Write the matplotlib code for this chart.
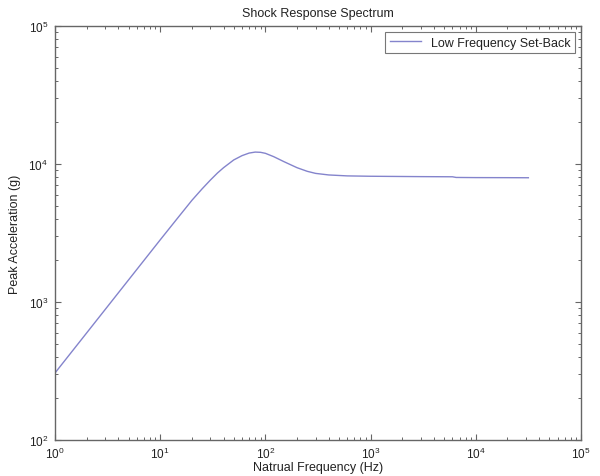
import matplotlib
matplotlib.use("Agg")
import matplotlib.pyplot as plt
from matplotlib.ticker import LogLocator, NullFormatter

plt.rcParams['font.family'] = ['Liberation Sans', 'DejaVu Sans']
plt.rcParams['mathtext.fontset'] = 'custom'
plt.rcParams['mathtext.rm'] = 'Liberation Sans'

freq_hz = [1, 2, 5, 10, 15, 20, 25, 30, 35, 40, 50, 60, 70, 80, 90, 100, 120, 150, 200,
           250, 300, 400, 600, 1000, 3000, 6000, 6500, 10000, 20000, 31600]
peak_g = [306, 597, 1445, 2820, 4150, 5450, 6600, 7650, 8600, 9400, 10700, 11500, 12000,
          12200, 12150, 11950, 11300, 10400, 9400, 8850, 8550, 8330, 8200, 8150, 8100,
          8080, 7990, 7970, 7960, 7950]

title = "Shock Response Spectrum"
xlabel = "Natrual Frequency (Hz)"
ylabel = "Peak Acceleration (g)"
legend_label = "Low Frequency Set-Back"

fig = plt.figure(figsize=(6.0, 4.77), dpi=100)
ax = fig.add_axes([55/600, 1-441/477, (581-55)/600, (441-27)/477])
ax.plot(freq_hz, peak_g, color='#8484cc', lw=1.0, label=legend_label)
ax.set_xscale('log')
ax.set_yscale('log')
ax.set_xlim(1, 1e5)
ax.set_ylim(1e2, 1e5)

ax.xaxis.set_major_locator(LogLocator(base=10, numticks=10))
ax.yaxis.set_major_locator(LogLocator(base=10, numticks=10))
ax.xaxis.set_minor_locator(LogLocator(base=10, subs=range(2, 10), numticks=20))
ax.yaxis.set_minor_locator(LogLocator(base=10, subs=range(2, 10), numticks=20))
ax.xaxis.set_minor_formatter(NullFormatter())
ax.yaxis.set_minor_formatter(NullFormatter())

for s in ax.spines.values():
    s.set_color('#666666')
    s.set_linewidth(1.0)
ax.tick_params(which='both', direction='in', top=True, right=True, colors='#666666',
               labelcolor='#222222', labelsize=8.5)
ax.tick_params(which='major', length=4, width=0.8)
ax.tick_params(which='minor', length=2.5, width=0.7)
ax.tick_params(axis='x', pad=4)
ax.tick_params(axis='y', pad=5)

ax.set_title(title, fontsize=9, color='#222222', pad=7)
ax.set_xlabel(xlabel, fontsize=9, color='#222222', labelpad=0)
ax.set_ylabel(ylabel, fontsize=9, color='#222222', labelpad=5)

leg = ax.legend(loc='upper right', fontsize=9, frameon=True, fancybox=False,
                handlelength=2.5, borderaxespad=0.5, borderpad=0.35)
leg.get_frame().set_edgecolor('#555555')
leg.get_frame().set_linewidth(0.8)
for t in leg.get_texts():
    t.set_color('#222222')

fig.savefig('out.png', dpi=100)
